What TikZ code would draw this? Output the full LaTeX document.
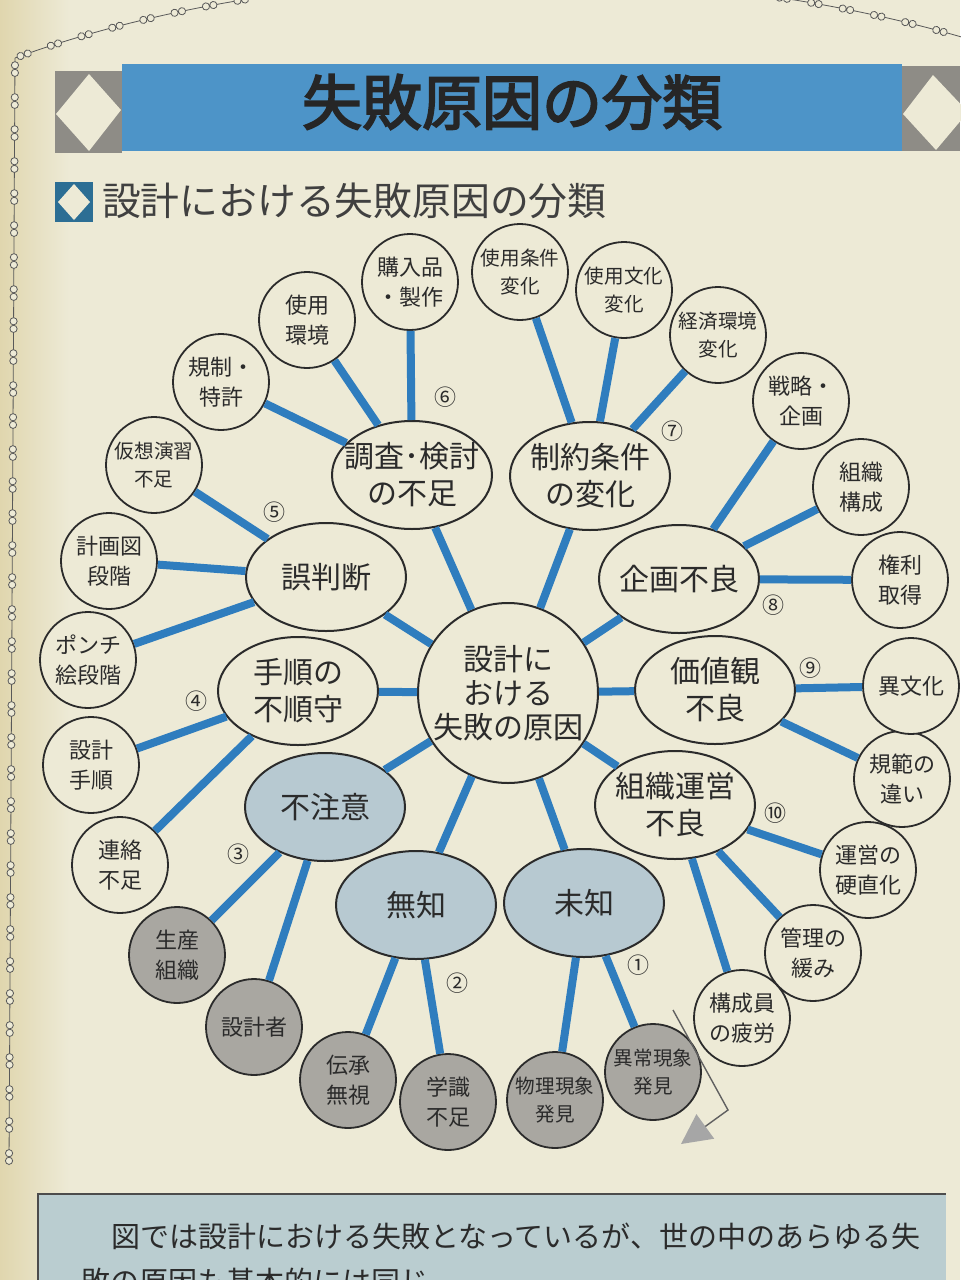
\documentclass[tikz,border=0pt]{standalone}
\usepackage{fontspec}
\setmainfont{Noto Sans CJK JP}
\newfontfamily\titlefont[FakeBold=3]{Noto Sans CJK JP}
\usetikzlibrary{shapes,arrows.meta,decorations.markings}

\definecolor{paper}{HTML}{EDEAD6}
\definecolor{gutter}{HTML}{E0D6AE}
\definecolor{ink}{HTML}{2B2B2B}
\definecolor{lineblue}{HTML}{2F7DBE}
\definecolor{bluegray}{HTML}{B7C9D1}
\definecolor{itemgray}{HTML}{A9A7A1}
\definecolor{band}{HTML}{4D94C8}
\definecolor{bandgray}{HTML}{8E8C86}
\definecolor{iconblue}{HTML}{2C6E94}
\definecolor{notebox}{HTML}{BACDD0}

\begin{document}
\begin{tikzpicture}[
    x=0.5pt, y=-0.5pt,
    every node/.style={text=ink},
    causebox/.style={circle, draw=ink, line width=1pt, fill=paper, minimum size=90pt, inner sep=0pt, align=center, font=\fontsize{15}{17}\selectfont},
    groupbox/.style={ellipse, draw=ink, line width=1pt, fill=paper, minimum width=80pt, minimum height=54pt, inner xsep=-12pt, inner ysep=-6pt, align=center, font=\fontsize{15}{18.5}\selectfont},
    knowbox/.style={groupbox, fill=bluegray},
    itembox/.style={circle, draw=ink, line width=0.9pt, fill=paper, minimum size=48pt, inner sep=-4pt, align=center, font=\fontsize{11}{15}\selectfont},
    darkbox/.style={itembox, fill=itemgray},
    smalltext/.style={font=\fontsize{9.8}{14}\selectfont},
    numlabel/.style={font=\fontsize{11}{11}\selectfont},
    spoke/.style={draw=lineblue, line width=4pt},
    chain/.style={draw=gray!70!black, line width=0.4pt, postaction={decorate},
      decoration={markings, mark=between positions 0.01 and 1 step 16pt with
        {\draw[gray!70!black, fill=paper, line width=0.4pt] (-1.9pt,0) circle (1.8pt) (1.9pt,0) circle (1.8pt);}}}
  ]

  % page
  \fill[paper] (0,0) rectangle (960,1280);
  \shade[left color=gutter, right color=paper] (0,0) rectangle (70,1280);
  \useasboundingbox (0,0) rectangle (960,1280);

  % chain border
  \draw[chain] (15,58) .. controls (300,-45) and (680,-45) .. (965,38);
  \draw[chain] (15,58) -- (9,1165);

  % title band
  \fill[band] (122,64) rectangle (902,151);
  \fill[bandgray] (55,71) rectangle (122,153);
  \fill[paper] (56,114) -- (89,74) -- (121,110) -- (89,151) -- cycle;
  \fill[bandgray] (902,66) rectangle (960,151);
  \fill[paper] (903,114) -- (933,75) -- (968,112) -- (936,150) -- cycle;
  \node[font=\titlefont\fontsize{30}{30}\selectfont, text=black!85] (title) at (512,102) {失敗原因の分類};

  % sub heading
  \fill[iconblue] (55,182) rectangle (93,222);
  \fill[paper] (58,202) -- (74,184) -- (90,202) -- (74,220) -- cycle;
  \node[anchor=west, font=\fontsize{19.4}{19.4}\selectfont, text=black!75] (subtitle) at (95,201) {設計における失敗原因の分類};

  % centre and causes
  \node[causebox] (center) at (508,693) {設計に\\おける\\失敗の原因};

  \node[groupbox] (chosa) at (412,475) {調査･検討\\の不足};
  \node[groupbox] (seiyaku) at (590,476) {制約条件\\の変化};
  \node[groupbox] (gohandan) at (326,577) {誤判断};
  \node[groupbox] (kikaku) at (679,579) {企画不良};
  \node[groupbox] (tejun) at (298,691) {手順の\\不順守};
  \node[groupbox] (kachikan) at (715,690) {価値観\\不良};
  \node[knowbox] (fuchui) at (325,807) {不注意};
  \node[groupbox] (soshiki) at (675,805) {組織運営\\不良};
  \node[knowbox] (muchi) at (416,905) {無知};
  \node[knowbox] (michi) at (584,903) {未知};

  % outer ring
  \node[itembox] (kounyu) at (410,282) {購入品\\・製作};
  \node[itembox] (kankyou) at (307,320) {使用\\環境};
  \node[itembox] (kisei) at (221,382) {規制・\\特許};
  \node[itembox, smalltext] (kasou) at (154,465) {仮想演習\\不足};
  \node[itembox] (keikakuzu) at (109,561) {計画図\\段階};
  \node[itembox] (ponchi) at (88,660) {ポンチ\\絵段階};
  \node[itembox] (sekkeitejun) at (91,765) {設計\\手順};
  \node[itembox] (renraku) at (120,865) {連絡\\不足};
  \node[darkbox] (seisan) at (177,955) {生産\\組織};
  \node[darkbox] (sekkeisha) at (254,1027) {設計者};
  \node[darkbox] (denshou) at (348,1080) {伝承\\無視};
  \node[darkbox] (gakushiki) at (448,1102) {学識\\不足};
  \node[darkbox, smalltext] (butsuri) at (555,1100) {物理現象\\発見};
  \node[darkbox, smalltext] (ijou) at (653,1072) {異常現象\\発見};
  \node[itembox] (kouseiin) at (742,1018) {構成員\\の疲労};
  \node[itembox] (kanri) at (813,953) {管理の\\緩み};
  \node[itembox] (unei) at (868,870) {運営の\\硬直化};
  \node[itembox] (kihan) at (902,779) {規範の\\違い};
  \node[itembox] (ibunka) at (911,686) {異文化};
  \node[itembox] (kenri) at (900,580) {権利\\取得};
  \node[itembox] (kousei) at (861,487) {組織\\構成};
  \node[itembox] (senryaku) at (801,401) {戦略・\\企画};
  \node[itembox, smalltext] (keizai) at (718,335) {経済環境\\変化};
  \node[itembox, smalltext] (bunka) at (624,290) {使用文化\\変化};
  \node[itembox, smalltext] (jouken) at (520,272) {使用条件\\変化};

  % spokes
  \foreach \g in {chosa,seiyaku,gohandan,kikaku,tejun,kachikan,fuchui,soshiki,muchi,michi}
    \draw[spoke] (center) -- (\g);
  \foreach \g/\i in {chosa/kounyu, chosa/kankyou, chosa/kisei,
                     gohandan/kasou, gohandan/keikakuzu, gohandan/ponchi,
                     tejun/sekkeitejun, tejun/renraku,
                     fuchui/seisan, fuchui/sekkeisha,
                     muchi/denshou, muchi/gakushiki,
                     michi/butsuri, michi/ijou,
                     soshiki/kouseiin, soshiki/kanri, soshiki/unei,
                     kachikan/kihan, kachikan/ibunka,
                     kikaku/kenri, kikaku/kousei, kikaku/senryaku,
                     seiyaku/keizai, seiyaku/bunka, seiyaku/jouken}
    \draw[spoke] (\g) -- (\i);

  % numbers
  \node[numlabel] (n1) at (638,965) {①};
  \node[numlabel] (n2) at (457,983) {②};
  \node[numlabel] (n3) at (238,854) {③};
  \node[numlabel] (n4) at (196,701) {④};
  \node[numlabel] (n5) at (274,512) {⑤};
  \node[numlabel] (n6) at (445,397) {⑥};
  \node[numlabel] (n7) at (672,431) {⑦};
  \node[numlabel] (n8) at (773,605) {⑧};
  \node[numlabel] (n9) at (810,668) {⑨};
  \node[numlabel] (n10) at (775,813) {⑩};

  % page turn mark
  \coordinate (turnA) at (673,1010);
  \coordinate (turnB) at (728,1110);
  \coordinate (turnC) at (681,1144);
  \draw[gray!75!black, line width=0.7pt, -{Triangle[length=15pt, width=15pt, color=gray!70, fill=gray!70]}] (turnA) -- (turnB) -- (turnC);

  % note box
  \fill[notebox] (38,1194) rectangle (946,1300);
  \draw[gray!60!black, line width=0.6pt] (38,1300) -- (38,1194) -- (946,1194);
  \node[anchor=west, font=\fontsize{14.5}{14.5}\selectfont] (note1) at (104,1236) {図では設計における失敗となっているが、世の中のあらゆる失};
  \node[anchor=west, font=\fontsize{14.5}{14.5}\selectfont] (note2) at (74,1281) {敗の原因も基本的には同じ。};

\end{tikzpicture}
\end{document}
